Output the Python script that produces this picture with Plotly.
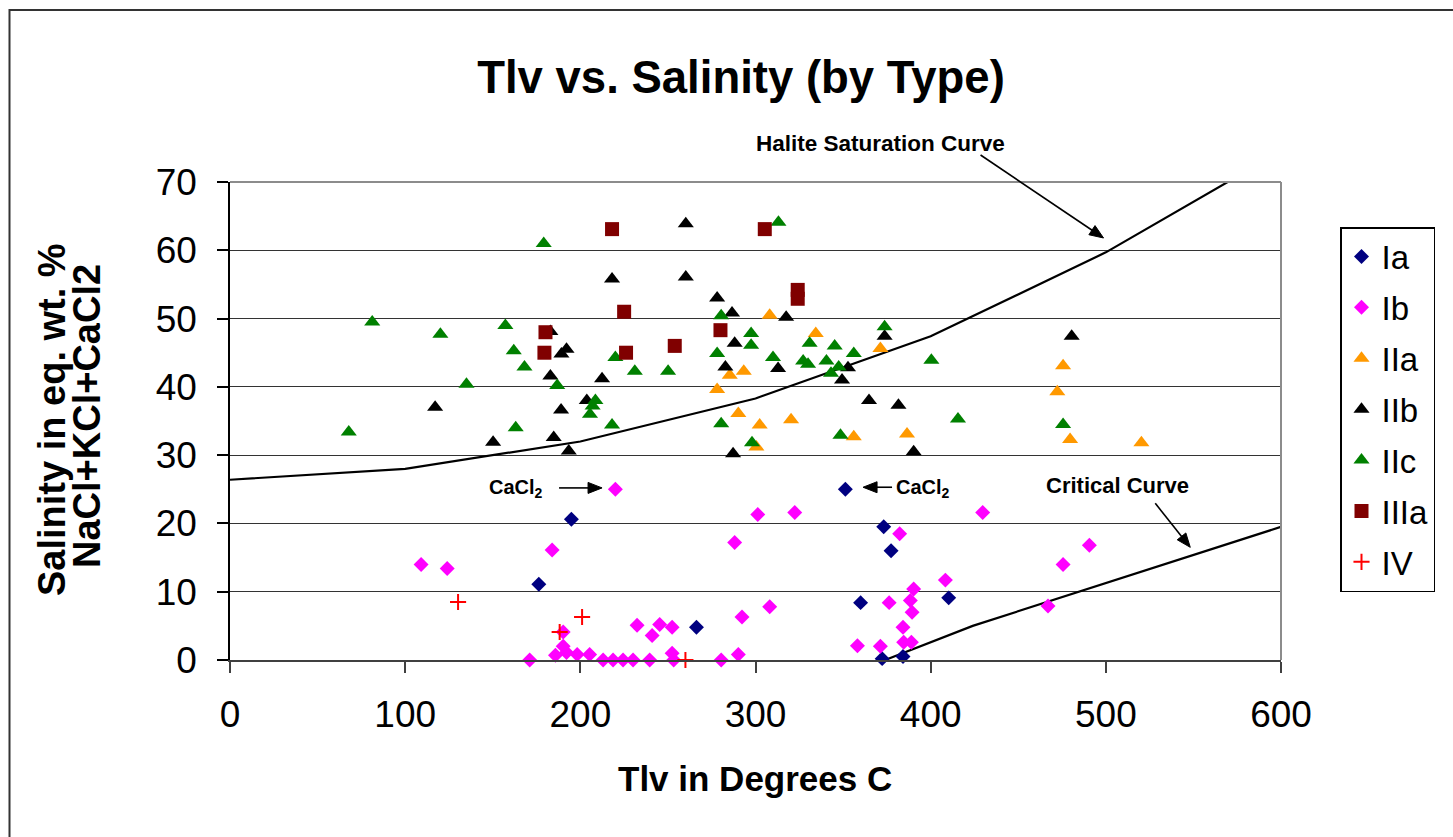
import plotly.graph_objects as go

# ---- measured fluid-inclusion data: homogenisation temperature (Tlv, deg C) vs salinity (wt.%) ----
ia_t = [176.3, 194.9, 266.3, 351.3, 360.0, 373.2, 377.4, 372.3, 384.2, 410.3]
ia_s = [11.1, 20.6, 4.8, 25.0, 8.4, 19.5, 16.0, 0.2, 0.5, 9.1]

ib_t = [109.1, 124.0, 171.1, 183.9, 185.8, 190.2, 190.2, 192.1, 198.2, 205.3, 213.0, 218.7,
        220.0, 224.4, 230.1, 232.4, 239.6, 241.0, 245.3, 252.4, 252.4, 253.3, 280.4, 288.1,
        290.2, 292.3, 301.3, 308.1, 322.4, 358.2, 371.3, 376.3, 382.3, 384.2, 384.6, 388.4,
        389.0, 389.4, 390.3, 408.4, 429.7, 467.0, 475.6, 490.6]
ib_s = [14.0, 13.4, 0.0, 16.1, 0.7, 4.1, 2.0, 1.1, 0.8, 0.8, 0.0, 0.0,
        25.0, 0.0, 0.0, 5.1, 0.0, 3.6, 5.2, 4.8, 1.0, 0.0, 0.0, 17.2,
        0.8, 6.3, 21.3, 7.8, 21.6, 2.1, 2.0, 8.4, 18.5, 4.8, 2.6, 8.7,
        2.6, 7.0, 10.4, 11.7, 21.6, 7.9, 14.0, 16.8]

iia_t = [278.1, 285.3, 290.2, 293.3, 300.5, 302.4, 308.1, 320.3, 334.4, 356.1, 371.3, 386.5,
         472.3, 475.6, 479.6, 520.3]
iia_s = [39.6, 41.7, 36.1, 42.3, 31.2, 34.4, 50.5, 35.2, 47.8, 32.7, 45.6, 33.1,
         39.3, 43.1, 32.3, 31.8]

iib_t = [117.1, 150.2, 182.9, 182.9, 184.8, 189.0, 189.2, 192.1, 193.4, 203.7, 212.4, 218.1,
         260.2, 260.2, 278.1, 282.8, 286.6, 287.2, 288.1, 312.9, 317.5, 349.4, 352.8, 364.8,
         373.7, 381.6, 390.3, 480.5]
iib_s = [37.0, 31.9, 48.1, 41.6, 32.6, 36.6, 44.8, 45.5, 30.6, 38.0, 41.2, 55.8,
         63.9, 56.1, 53.0, 42.9, 50.8, 30.2, 46.4, 42.7, 50.2, 41.0, 42.8, 38.0,
         47.4, 37.3, 30.5, 47.4]

iic_t = [67.8, 81.2, 120.1, 135.0, 157.2, 162.0, 163.1, 168.1, 179.1, 186.8, 205.5, 207.0,
         208.6, 218.1, 220.0, 231.1, 250.1, 278.1, 280.4, 280.4, 297.5, 297.5, 298.0, 310.0,
         313.1, 327.2, 330.0, 330.9, 340.5, 343.1, 345.2, 347.5, 348.5, 356.1, 373.7, 400.4,
         415.6, 475.6]
iic_s = [33.4, 49.5, 47.7, 40.4, 49.0, 45.3, 34.0, 42.9, 61.0, 40.2, 36.0, 37.2,
         38.0, 34.4, 44.3, 42.3, 42.3, 44.9, 50.4, 34.6, 47.8, 46.1, 31.8, 44.3,
         64.1, 43.8, 43.3, 46.4, 43.8, 42.0, 46.0, 42.9, 32.9, 44.9, 48.8, 43.9,
         35.3, 34.5]

iiia_t = [179.5, 180.1, 218.1, 225.0, 226.1, 253.9, 280.0, 305.3, 324.1, 324.1]
iiia_s = [45.0, 48.0, 63.1, 51.0, 45.0, 46.0, 48.3, 63.1, 54.2, 52.9]

iv_t = [130.2, 188.2, 201.0, 260.0]
iv_s = [8.5, 4.1, 6.3, 0.0]

# reference curves for the H2O-salt system
halite_t = [0, 100, 200, 300, 400, 500, 600]
halite_s = [26.4, 28.0, 32.0, 38.3, 47.4, 59.7, 74.5]
critical_t = [374, 424, 600]
critical_s = [0.0, 5.0, 19.5]

X_MAX, Y_MAX = 600, 70
FONT = "Liberation Sans, Arial, sans-serif"

series = [
    ("Ia", ia_t, ia_s, dict(symbol="diamond", size=11.5, color="#000080")),
    ("Ib", ib_t, ib_s, dict(symbol="diamond", size=11.5, color="#FF00FF")),
    ("IIa", iia_t, iia_s, dict(symbol="triangle-up", size=14, color="#FF9900")),
    ("IIb", iib_t, iib_s, dict(symbol="triangle-up", size=14, color="#000000")),
    ("IIc", iic_t, iic_s, dict(symbol="triangle-up", size=14, color="#008000")),
    ("IIIa", iiia_t, iiia_s, dict(symbol="square", size=14, color="#800000")),
    ("IV", iv_t, iv_s, dict(symbol="cross-thin", size=11.5, color="#FF0000",
                            line=dict(color="#FF0000", width=2))),
]

fig = go.Figure()

fig.add_trace(go.Scatter(x=halite_t, y=halite_s, mode="lines",
                         line=dict(color="black", width=2.2), showlegend=False, hoverinfo="skip"))
fig.add_trace(go.Scatter(x=critical_t, y=critical_s, mode="lines",
                         line=dict(color="black", width=2.2), showlegend=False, hoverinfo="skip"))

for name, xs, ys, mk in series:
    m = dict(mk)
    m.setdefault("line", dict(width=0))
    fig.add_trace(go.Scatter(x=xs, y=ys, mode="markers", name=name, marker=m,
                             legendgroup=name, cliponaxis=False))

W, H = 1453, 837
L, R, T, B = 230, 1453 - 1281, 182, 837 - 660
PW, PH = W - L - R, H - T - B


def px(xp):
    """page pixel x -> paper x"""
    return (xp - L) / PW


def py(yp):
    """page pixel y -> paper y"""
    return (H - B - yp) / PH


def label(text, xpix, ypix, size, angle=0):
    return dict(text=text, x=px(xpix), y=py(ypix), xref="paper", yref="paper",
                xanchor="center", yanchor="middle", textangle=angle, showarrow=False,
                font=dict(family=FONT, size=size, color="black"))


annotations = [
    label("<b>Salinity in eq. wt. %</b>", 52, 420, 38, -90),
    label("<b>NaCl+KCl+CaCl2</b>", 87, 416, 38, -90),
    label("<b>Tlv in Degrees C</b>", 755, 778, 35),
    label("<b>Halite Saturation Curve</b>", 880, 143, 22.5),
    label("<b>Critical Curve</b>", 1117, 485, 22),
    label("<b>CaCl<sub>2</sub></b>", 516, 488, 20),
    label("<b>CaCl<sub>2</sub></b>", 923, 488, 20),
]


def arrow_shapes(tip_x, tip_y, dx, dy, head_len=14, head_half=5.5, width=1.6):
    """Arrow whose tip sits at data point (tip_x, tip_y); tail offset (dx, dy) in pixels."""
    hx, hy = tip_x / X_MAX * PW, tip_y / Y_MAX * PH          # tip, pixels from plot origin (y up)
    tx, ty = hx + dx, hy - dy                                  # tail
    vx, vy = hx - tx, hy - ty
    n = (vx * vx + vy * vy) ** 0.5
    ux, uy = vx / n, vy / n
    bx, by = hx - ux * head_len, hy - uy * head_len            # base of arrow head
    p1 = (bx - uy * head_half, by + ux * head_half)
    p2 = (bx + uy * head_half, by - ux * head_half)

    def P(x, y):
        return f"{x / PW:.5f},{y / PH:.5f}"

    return [
        dict(type="line", xref="paper", yref="paper", x0=tx / PW, y0=ty / PH,
             x1=(bx + ux * 2) / PW, y1=(by + uy * 2) / PH,
             line=dict(color="black", width=width)),
        dict(type="path", xref="paper", yref="paper",
             path=f"M{P(hx, hy)} L{P(*p1)} L{P(*p2)} Z",
             fillcolor="black", line=dict(color="black", width=1)),
    ]


shapes = [
    # outer chart frame (left and top visible)
    dict(type="rect", xref="paper", yref="paper", x0=px(9.5), y0=-0.7, x1=1.6, y1=py(10),
         line=dict(color="#333333", width=2)),
    # plot area border on top and right
    dict(type="line", xref="paper", yref="paper", x0=0, x1=1, y0=1, y1=1,
         line=dict(color="#8c8c8c", width=2)),
    dict(type="line", xref="paper", yref="paper", x0=1, x1=1, y0=0, y1=1,
         line=dict(color="#8c8c8c", width=2)),
]
shapes += arrow_shapes(498.7, 61.8, -123, -83)   # halite saturation label
shapes += arrow_shapes(548.2, 16.5, -35, -44)    # critical curve label
shapes += arrow_shapes(212.4, 25.2, -43, 0)      # CaCl2 (Ib point)
shapes += arrow_shapes(361.4, 25.3, 29, 0)       # CaCl2 (Ia point)

fig.update_layout(
    width=W, height=H, autosize=False,
    margin=dict(l=L, r=R, t=T, b=B, pad=0),
    paper_bgcolor="white", plot_bgcolor="white",
    font=dict(family=FONT, color="black"),
    title=dict(text="<b>Tlv vs. Salinity (by Type)</b>", x=px(741), xref="paper",
               xanchor="center", y=1 - 77 / H, yanchor="middle",
               font=dict(family=FONT, size=45.5, color="black")),
    annotations=annotations,
    shapes=shapes,
    legend=dict(x=px(1340), y=py(227), xanchor="left", yanchor="top",
                bordercolor="black", borderwidth=1.5, bgcolor="white",
                font=dict(family=FONT, size=33, color="black"),
                tracegroupgap=5, itemwidth=30),
    showlegend=True,
)

fig.update_xaxes(range=[0, X_MAX], tick0=0, dtick=100, showgrid=False, zeroline=False,
                 showline=True, linecolor="#404040", linewidth=1.5,
                 ticks="outside", ticklen=11, tickcolor="#404040", tickwidth=1.5,
                 ticklabelstandoff=10,
                 tickfont=dict(family=FONT, size=37, color="black"))
fig.update_yaxes(range=[0, Y_MAX], tick0=0, dtick=10, showgrid=True, gridcolor="#333333",
                 gridwidth=1, zeroline=False, showline=True, linecolor="black", linewidth=1.5,
                 ticks="outside", ticklen=11, tickcolor="black", tickwidth=1.5,
                 ticklabelstandoff=13,
                 tickfont=dict(family=FONT, size=37, color="black"))

fig.write_html("out.html")
